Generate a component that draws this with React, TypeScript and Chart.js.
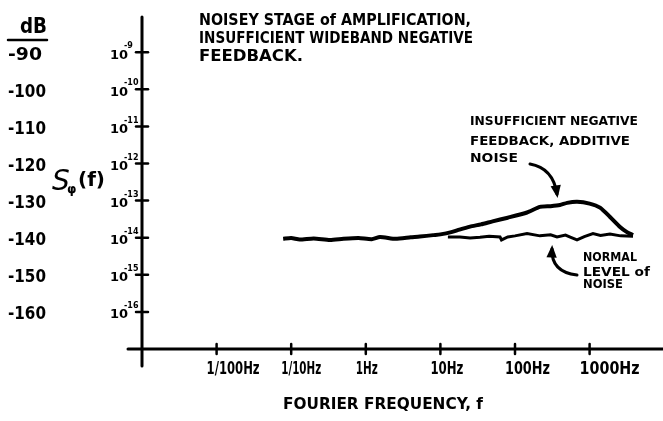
import React, { useEffect, useRef } from "react";
import { Chart, registerables } from "chart.js";

Chart.register(...registerables);

// ---- data ----
const xTickFreqs = [0.01, 0.1, 1, 10, 100, 1000];
const xTickLabels = ["1/100Hz", "1/10Hz", "1Hz", "10Hz", "100Hz", "1000Hz"];
const yTickDb = [-90, -100, -110, -120, -130, -140, -150, -160];
const yTickExps = ["-9", "-10", "-11", "-12", "-13", "-14", "-15", "-16"];
const dbLabels = ["-90", "-100", "-110", "-120", "-130", "-140", "-150", "-160"];

const upperFreq = [0.078, 0.1, 0.13, 0.2, 0.33, 0.5, 0.8, 1.2, 1.55, 2.5, 4, 5.3, 8, 10, 14, 18, 25, 35, 50, 80, 145, 216, 300, 400, 500, 680, 1000, 1380, 1880, 2560, 3170, 3820];
const upperDb = [-140.3, -140.1, -140.5, -140.2, -140.6, -140.3, -140.1, -140.4, -139.8, -140.3, -139.9, -139.7, -139.3, -139.1, -138.5, -137.8, -137.0, -136.4, -135.6, -134.6, -133.2, -131.7, -131.5, -131.2, -130.6, -130.3, -130.8, -131.9, -134.4, -137.1, -138.5, -139.3];

const lowerFreq = [12.6, 18.3, 25, 34, 45, 63, 66, 80, 100, 145, 216, 300, 366, 475, 560, 678, 850, 1110, 1400, 1876, 2600, 3820];
const lowerDb = [-139.8, -139.8, -140.1, -139.9, -139.6, -139.8, -140.6, -139.8, -139.5, -138.9, -139.5, -139.2, -139.8, -139.3, -139.9, -140.6, -139.7, -138.9, -139.4, -139.0, -139.5, -139.6];

const FONT = '"DejaVu Sans", sans-serif';

function fitText(ctx: CanvasRenderingContext2D, text: string, x: number, y: number, w: number, size: number) {
  ctx.save();
  ctx.font = `bold ${size}px ${FONT}`;
  ctx.textAlign = "left";
  ctx.textBaseline = "middle";
  const m = ctx.measureText(text).width;
  ctx.translate(x, y);
  ctx.scale(w / m, 1);
  ctx.fillText(text, 0, 0);
  ctx.restore();
}

function arrow(ctx: CanvasRenderingContext2D, x0: number, y0: number, cx: number, cy: number, x1: number, y1: number) {
  ctx.beginPath();
  ctx.moveTo(x0, y0);
  ctx.quadraticCurveTo(cx, cy, x1, y1);
  ctx.stroke();
  const ang = Math.atan2(y1 - cy, x1 - cx);
  const L = 10;
  ctx.beginPath();
  ctx.moveTo(x1 + Math.cos(ang) * 4, y1 + Math.sin(ang) * 4);
  ctx.lineTo(x1 + Math.cos(ang + 2.6) * L, y1 + Math.sin(ang + 2.6) * L);
  ctx.lineTo(x1 + Math.cos(ang - 2.6) * L, y1 + Math.sin(ang - 2.6) * L);
  ctx.closePath();
  ctx.fill();
}

const decorPlugin = {
  id: "decor",
  afterDraw(chart: any) {
    const ctx: CanvasRenderingContext2D = chart.ctx;
    const xs = chart.scales.x;
    const ys = chart.scales.y;
    const X0 = xs.getPixelForValue(1e-3);
    const Y0 = ys.getPixelForValue(-170);
    ctx.save();
    ctx.strokeStyle = "#000";
    ctx.fillStyle = "#000";
    ctx.lineCap = "round";
    // axes
    ctx.lineWidth = 3;
    ctx.beginPath();
    ctx.moveTo(X0, ys.getPixelForValue(-80.5));
    ctx.lineTo(X0, Y0 + 17);
    ctx.moveTo(X0 - 14, Y0);
    ctx.lineTo(xs.right, Y0);
    ctx.stroke();
    ctx.lineWidth = 2.5;
    yTickDb.forEach((v, i) => {
      const y = ys.getPixelForValue(v);
      ctx.beginPath();
      ctx.moveTo(X0 - 6, y);
      ctx.lineTo(X0 + 6, y);
      ctx.stroke();
      // 10^exp label
      ctx.font = `bold 13px ${FONT}`;
      ctx.textAlign = "right";
      ctx.textBaseline = "middle";
      ctx.fillText("10", 128, y + 3);
      ctx.font = `bold 8px ${FONT}`;
      ctx.textAlign = "left";
      ctx.fillText(yTickExps[i], 124, y - 6);
      // dB label
      fitText(ctx, dbLabels[i], 8, y + 3, dbLabels[i].length === 3 ? 34 : 38, 17);
    });
    xTickFreqs.forEach((f, i) => {
      const x = xs.getPixelForValue(f);
      ctx.beginPath();
      ctx.moveTo(x, Y0 - 5);
      ctx.lineTo(x, Y0 + 5);
      ctx.stroke();
      const w = [53, 40, 22, 33, 45, 60][i];
      fitText(ctx, xTickLabels[i], x - 10, Y0 + 21, w, 17);
    });
    // axis titles
    fitText(ctx, "FOURIER FREQUENCY, f", 283, 405, 200, 15);
    fitText(ctx, "dB", 20, 27, 27, 22);
    ctx.lineWidth = 2.5;
    ctx.beginPath();
    ctx.moveTo(8, 40);
    ctx.lineTo(47, 40);
    ctx.stroke();
    // S_phi(f)
    ctx.font = `italic 28px ${FONT}`;
    ctx.textAlign = "left";
    ctx.textBaseline = "alphabetic";
    ctx.fillText("S", 52, 190);
    ctx.font = `bold 12px ${FONT}`;
    ctx.fillText("φ", 67, 193);
    ctx.font = `bold 20px ${FONT}`;
    ctx.fillText("(f)", 78, 186);
    // title
    fitText(ctx, "NOISEY STAGE of AMPLIFICATION,", 199, 21, 272, 16);
    fitText(ctx, "INSUFFICIENT WIDEBAND NEGATIVE", 199, 39, 274, 16);
    fitText(ctx, "FEEDBACK.", 199, 57, 104, 16);
    // annotations
    fitText(ctx, "INSUFFICIENT NEGATIVE", 470, 122, 168, 13);
    fitText(ctx, "FEEDBACK, ADDITIVE", 470, 142, 160, 13);
    fitText(ctx, "NOISE", 470, 159, 48, 13);
    fitText(ctx, "NORMAL", 583, 258, 54, 13);
    fitText(ctx, "LEVEL of", 583, 273, 67, 13);
    fitText(ctx, "NOISE", 583, 285, 40, 13);
    ctx.lineWidth = 3;
    arrow(ctx, 530, 164, 553, 168, 557, 194);
    arrow(ctx, 577, 275, 551, 272, 552, 249);
    ctx.restore();
  },
};

export default function App() {
  const ref = useRef<HTMLCanvasElement>(null);
  useEffect(() => {
    if (!ref.current) return;
    const chart = new Chart(ref.current, {
      type: "line",
      data: {
        datasets: [
          {
            label: "Insufficient negative feedback, additive noise",
            data: upperFreq.map((f, i) => ({ x: f, y: upperDb[i] })),
            borderColor: "#000",
            borderWidth: 4,
            pointRadius: 0,
            tension: 0.2,
          },
          {
            label: "Normal level of noise",
            data: lowerFreq.map((f, i) => ({ x: f, y: lowerDb[i] })),
            borderColor: "#000",
            borderWidth: 3,
            pointRadius: 0,
            tension: 0,
          },
        ],
      },
      options: {
        responsive: false,
        animation: false,
        layout: { padding: { left: 142, top: 17, right: 0, bottom: 72 } },
        plugins: { legend: { display: false }, tooltip: { enabled: false } },
        scales: {
          x: { type: "logarithmic", min: 1e-3, max: 9638, display: false },
          y: { type: "linear", min: -170, max: -80.5, display: false },
        },
      },
      plugins: [decorPlugin],
    });
    return () => chart.destroy();
  }, []);
  return (
    <div style={{ position: "fixed", left: 0, top: 0, width: 663, height: 421, background: "#fff" }}>
      <canvas ref={ref} width={663} height={421} />
    </div>
  );
}
